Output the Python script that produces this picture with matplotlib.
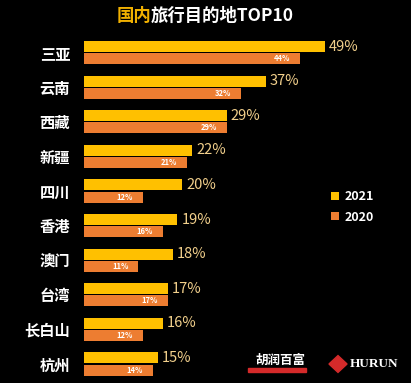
import matplotlib.pyplot as plt
import matplotlib.patches as patches
import numpy as np

plt.rcParams['font.family'] = ['Noto Sans CJK SC', 'DejaVu Sans']

# data
cities = ['三亚', '云南', '西藏', '新疆', '四川', '香港', '澳门', '台湾', '长白山', '杭州']
share_2021 = [49, 37, 29, 22, 20, 19, 18, 17, 16, 15]
share_2020 = [44, 32, 29, 21, 12, 16, 11, 17, 12, 14]
years = ['2021', '2020']

gold = '#FFC000'
orange = '#ED7D31'
label_gold = '#F2D08C'

fig = plt.figure(figsize=(4.11, 3.83), dpi=100, facecolor='black')
ax = fig.add_axes([84 / 411, 1.7 / 383, 295 / 411, 346 / 383])
ax.set_facecolor('black')

y = np.arange(len(cities))
off = 0.175
h = 0.32
ax.barh(y - off, share_2021, height=h, color=gold, label=years[0])
ax.barh(y + off, share_2020, height=h, color=orange, label=years[1])

for yi, v in zip(y, share_2021):
    ax.text(v + 0.8, yi - off, f'{v}%', color=label_gold, fontsize=10.5,
            va='center', ha='left')
for yi, v in zip(y, share_2020):
    ax.text(v - 2.0, yi + off, f'{v}%', color='white', fontsize=5.5,
            fontweight='bold', va='center', ha='right')

ax.set_xlim(0, 60)
ax.set_ylim(9.5, -0.5)
ax.set_yticks(y)
ax.set_yticklabels(cities, color='white', fontsize=11, fontweight='bold')
ax.tick_params(axis='y', length=0, pad=10)
ax.set_xticks([])
for s in ax.spines.values():
    s.set_visible(False)

# title: first two characters in gold, whole title centred at x~205px
renderer = fig.canvas.get_renderer()
t1 = fig.text(0, 0.958, '国内', color='#F0B000', fontsize=12.5,
              fontweight='bold', ha='left', va='center')
t2 = fig.text(0, 0.958, '旅行目的地TOP10', color='white', fontsize=12.5,
              fontweight='bold', ha='left', va='center')
w1 = t1.get_window_extent(renderer).width / fig.bbox.width
w2 = t2.get_window_extent(renderer).width / fig.bbox.width
x0 = 205 / 411 - (w1 + w2) / 2
t1.set_x(x0)
t2.set_x(x0 + w1)

# legend
leg = ax.legend(loc='upper left', bbox_to_anchor=(0.8, 0.585), frameon=False,
                handlelength=0.6, handleheight=0.6, handletextpad=0.5,
                labelspacing=0.6, fontsize=9)
for t in leg.get_texts():
    t.set_color('white')
    t.set_fontweight('bold')

# hurun logo
fig.text(280 / 411, 1 - 360 / 383, '胡润百富', color='white', fontsize=9,
         fontweight='bold', ha='center', va='center')
fig.patches.append(patches.Rectangle((248 / 411, 1 - 372 / 383), 58 / 411, 4 / 383,
                                     transform=fig.transFigure, color='#D42A2A'))
fig.patches.append(patches.RegularPolygon((338 / 411, 1 - 364 / 383), 4, radius=0.022,
                                          transform=fig.transFigure, color='#D42A2A'))
fig.text(374 / 411, 1 - 364 / 383, 'HURUN', color='white', fontsize=9.5,
         family='Liberation Serif', fontweight='bold', ha='center', va='center')

fig.savefig('out.png', dpi=100, facecolor='black')
